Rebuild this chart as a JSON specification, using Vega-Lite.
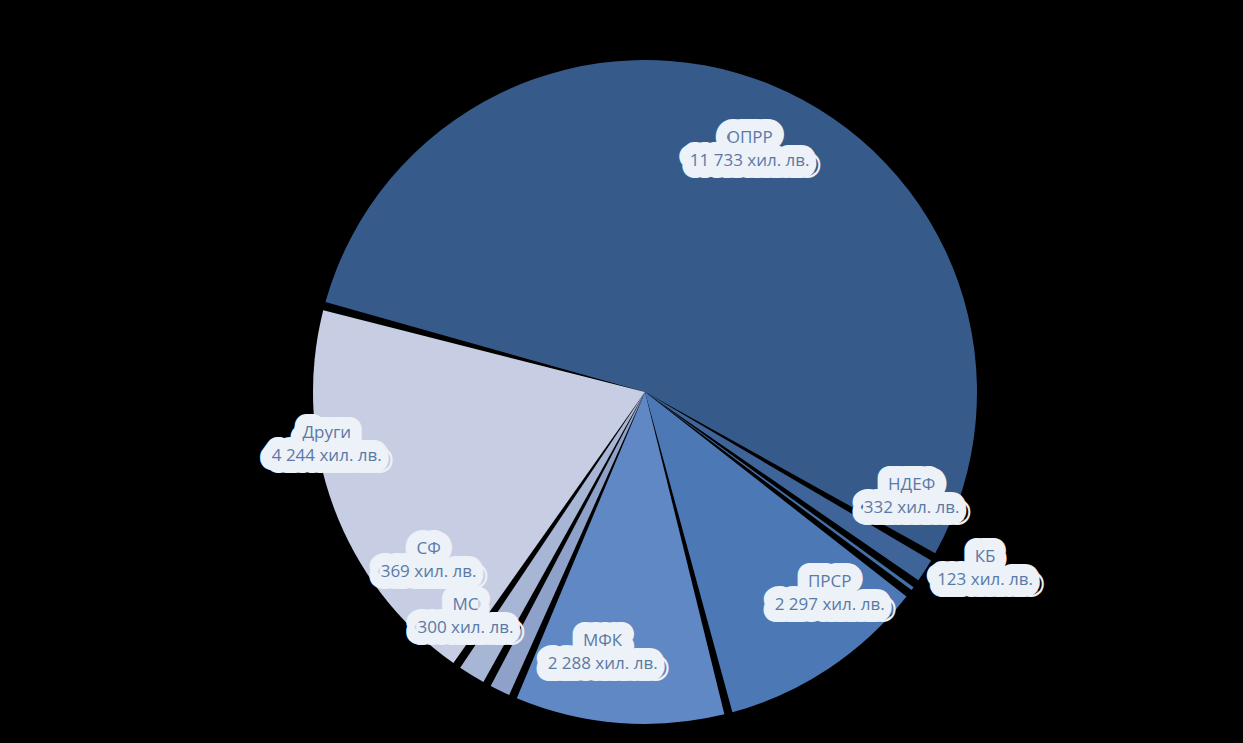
{
  "$schema": "https://vega.github.io/schema/vega-lite/v6.json",
  "width": 1243,
  "height": 743,
  "autosize": {"type": "fit", "contains": "padding"},
  "padding": {"left": 47, "right": 0, "top": 37, "bottom": 0},
  "background": "#000000",
  "config": {"view": {"stroke": null}},
  "data": {
    "values": [
      {"idx": 1, "name": "ОПРР", "value": 11733, "label": "ОПРР\n11 733 хил. лв."},
      {"idx": 2, "name": "НДЕФ", "value": 332, "label": "НДЕФ\n332  хил. лв."},
      {"idx": 3, "name": "КБ", "value": 123, "label": "КБ\n123  хил. лв."},
      {"idx": 4, "name": "ПРСР", "value": 2297, "label": "ПРСР\n2 297 хил. лв."},
      {"idx": 5, "name": "МФК", "value": 2288, "label": "МФК\n2 288 хил. лв."},
      {"idx": 6, "name": "МС", "value": 300, "label": "МС\n300 хил. лв."},
      {"idx": 7, "name": "СФ", "value": 369, "label": "СФ\n369 хил. лв."},
      {"idx": 8, "name": "Други", "value": 4244, "label": "Други\n4 244 хил. лв."}
    ]
  },
  "encoding": {
    "theta": {"field": "value", "type": "quantitative", "stack": true, "scale": {"range": [-1.309, 4.974]}},
    "order": {"field": "idx", "type": "quantitative"}
  },
  "layer": [
    {
      "mark": {"type": "arc", "outerRadius": 332, "padAngle": 0.025},
      "encoding": {
        "color": {
          "field": "name", "type": "nominal", "legend": null,
          "scale": {
            "domain": ["ОПРР", "НДЕФ", "КБ", "ПРСР", "МФК", "МС", "СФ", "Други"],
            "range": ["#365b8a", "#3e6499", "#4470aa", "#4c79b6", "#6088c4", "#8ea1c8", "#a8b6d6", "#c7cee3"]
          }
        }
      }
    },
    {"mark": {"type": "text", "radius": 275, "fontSize": 17, "font": "Open Sans", "lineBreak": "\n", "lineHeight": 23, "fill": "#edf1f8", "stroke": "#edf1f8", "strokeWidth": 24, "strokeJoin": "round"},
     "encoding": {"text": {"condition": {"test": "datum.name === 'ОПРР'", "field": "label", "type": "nominal"}, "value": ""}}},
    {"mark": {"type": "text", "radius": 275, "fontSize": 17, "font": "Open Sans", "lineBreak": "\n", "lineHeight": 23, "fill": "#5a7aa6"},
     "encoding": {"text": {"condition": {"test": "datum.name === 'ОПРР'", "field": "label", "type": "nominal"}, "value": ""}}},

    {"mark": {"type": "text", "radius": 283, "dx": 28, "dy": -59, "fontSize": 17, "font": "Open Sans", "lineBreak": "\n", "lineHeight": 23, "fill": "#edf1f8", "stroke": "#edf1f8", "strokeWidth": 24, "strokeJoin": "round"},
     "encoding": {"text": {"condition": {"test": "datum.name === 'НДЕФ'", "field": "label", "type": "nominal"}, "value": ""}}},
    {"mark": {"type": "text", "radius": 283, "dx": 28, "dy": -59, "fontSize": 17, "font": "Open Sans", "lineBreak": "\n", "lineHeight": 23, "fill": "#5a7aa6"},
     "encoding": {"text": {"condition": {"test": "datum.name === 'НДЕФ'", "field": "label", "type": "nominal"}, "value": ""}}},

    {"mark": {"type": "text", "radius": 350, "dx": 58, "dy": -42, "fontSize": 17, "font": "Open Sans", "lineBreak": "\n", "lineHeight": 23, "fill": "#edf1f8", "stroke": "#edf1f8", "strokeWidth": 24, "strokeJoin": "round"},
     "encoding": {"text": {"condition": {"test": "datum.name === 'КБ'", "field": "label", "type": "nominal"}, "value": ""}}},
    {"mark": {"type": "text", "radius": 350, "dx": 58, "dy": -42, "fontSize": 17, "font": "Open Sans", "lineBreak": "\n", "lineHeight": 23, "fill": "#5a7aa6"},
     "encoding": {"text": {"condition": {"test": "datum.name === 'КБ'", "field": "label", "type": "nominal"}, "value": ""}}},

    {"mark": {"type": "text", "radius": 265, "dx": 38, "dy": -31, "fontSize": 17, "font": "Open Sans", "lineBreak": "\n", "lineHeight": 23, "fill": "#edf1f8", "stroke": "#edf1f8", "strokeWidth": 24, "strokeJoin": "round"},
     "encoding": {"text": {"condition": {"test": "datum.name === 'ПРСР'", "field": "label", "type": "nominal"}, "value": ""}}},
    {"mark": {"type": "text", "radius": 265, "dx": 38, "dy": -31, "fontSize": 17, "font": "Open Sans", "lineBreak": "\n", "lineHeight": 23, "fill": "#5a7aa6"},
     "encoding": {"text": {"condition": {"test": "datum.name === 'ПРСР'", "field": "label", "type": "nominal"}, "value": ""}}},

    {"mark": {"type": "text", "radius": 250, "dx": -23, "dy": 0, "fontSize": 17, "font": "Open Sans", "lineBreak": "\n", "lineHeight": 23, "fill": "#edf1f8", "stroke": "#edf1f8", "strokeWidth": 24, "strokeJoin": "round"},
     "encoding": {"text": {"condition": {"test": "datum.name === 'МФК'", "field": "label", "type": "nominal"}, "value": ""}}},
    {"mark": {"type": "text", "radius": 250, "dx": -23, "dy": 0, "fontSize": 17, "font": "Open Sans", "lineBreak": "\n", "lineHeight": 23, "fill": "#5a7aa6"},
     "encoding": {"text": {"condition": {"test": "datum.name === 'МФК'", "field": "label", "type": "nominal"}, "value": ""}}},

    {"mark": {"type": "text", "radius": 278, "dx": -58, "dy": -37, "fontSize": 17, "font": "Open Sans", "lineBreak": "\n", "lineHeight": 23, "fill": "#edf1f8", "stroke": "#edf1f8", "strokeWidth": 24, "strokeJoin": "round"},
     "encoding": {"text": {"condition": {"test": "datum.name === 'МС'", "field": "label", "type": "nominal"}, "value": ""}}},
    {"mark": {"type": "text", "radius": 278, "dx": -58, "dy": -37, "fontSize": 17, "font": "Open Sans", "lineBreak": "\n", "lineHeight": 23, "fill": "#5a7aa6"},
     "encoding": {"text": {"condition": {"test": "datum.name === 'МС'", "field": "label", "type": "nominal"}, "value": ""}}},

    {"mark": {"type": "text", "radius": 267, "dx": -77, "dy": -71, "fontSize": 17, "font": "Open Sans", "lineBreak": "\n", "lineHeight": 23, "fill": "#edf1f8", "stroke": "#edf1f8", "strokeWidth": 24, "strokeJoin": "round"},
     "encoding": {"text": {"condition": {"test": "datum.name === 'СФ'", "field": "label", "type": "nominal"}, "value": ""}}},
    {"mark": {"type": "text", "radius": 267, "dx": -77, "dy": -71, "fontSize": 17, "font": "Open Sans", "lineBreak": "\n", "lineHeight": 23, "fill": "#5a7aa6"},
     "encoding": {"text": {"condition": {"test": "datum.name === 'СФ'", "field": "label", "type": "nominal"}, "value": ""}}},

    {"mark": {"type": "text", "radius": 320, "dx": -18, "dy": -70, "fontSize": 17, "font": "Open Sans", "lineBreak": "\n", "lineHeight": 23, "fill": "#edf1f8", "stroke": "#edf1f8", "strokeWidth": 24, "strokeJoin": "round"},
     "encoding": {"text": {"condition": {"test": "datum.name === 'Други'", "field": "label", "type": "nominal"}, "value": ""}}},
    {"mark": {"type": "text", "radius": 320, "dx": -18, "dy": -70, "fontSize": 17, "font": "Open Sans", "lineBreak": "\n", "lineHeight": 23, "fill": "#5a7aa6"},
     "encoding": {"text": {"condition": {"test": "datum.name === 'Други'", "field": "label", "type": "nominal"}, "value": ""}}}
  ]
}
